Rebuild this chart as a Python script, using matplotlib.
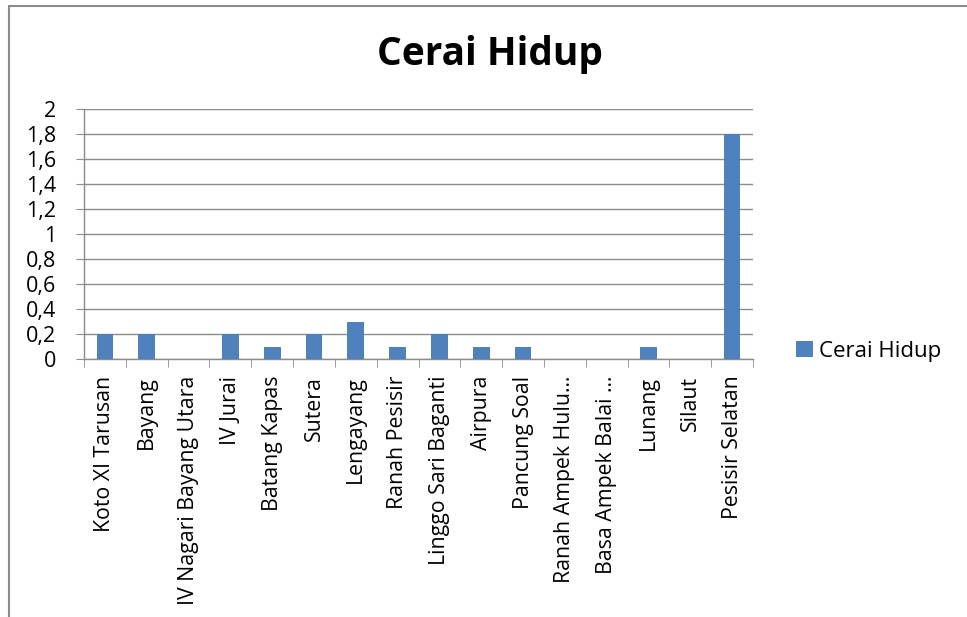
import matplotlib
matplotlib.use("Agg")
import matplotlib.pyplot as plt
from matplotlib.patches import Rectangle
from matplotlib.ticker import FuncFormatter, FixedLocator, NullFormatter
import numpy as np

categories = ["Koto XI Tarusan", "Bayang", "IV Nagari Bayang Utara", "IV Jurai",
              "Batang Kapas", "Sutera", "Lengayang", "Ranah Pesisir",
              "Linggo Sari Baganti", "Airpura", "Pancung Soal",
              "Ranah Ampek Hulu…", "Basa Ampek Balai …", "Lunang", "Silaut",
              "Pesisir Selatan"]
values = [0.2, 0.2, 0, 0.2, 0.1, 0.2, 0.3, 0.1, 0.2, 0.1, 0.1, 0, 0, 0.1, 0, 1.8]
series_name = "Cerai Hidup"
yticks = [0, 0.2, 0.4, 0.6, 0.8, 1, 1.2, 1.4, 1.6, 1.8, 2]

plt.rcParams['font.family'] = ['Open Sans', 'DejaVu Sans']

fig = plt.figure(figsize=(9.67, 6.17), dpi=100)
fig.patches.append(Rectangle((9/967, -0.1), 1.2, 1 - 6/617 + 0.1,
                             transform=fig.transFigure, fill=False,
                             edgecolor='#8c8c8c', linewidth=1.5))

ax = fig.add_axes([84/967, 1 - 359/617, (753 - 84)/967, (359 - 109)/617])
x = np.arange(len(categories))
ax.bar(x, values, width=0.4, color='#4F81BD', label=series_name, zorder=3)

ax.set_xlim(-0.5, len(categories) - 0.5)
ax.set_ylim(0, 2)
ax.set_yticks(yticks)
ax.yaxis.set_major_formatter(FuncFormatter(lambda v, p: ('%g' % v).replace('.', ',')))
ax.grid(axis='y', color='#8c8c8c', linewidth=1, zorder=0)

ax.set_xticks(x)
ax.set_xticklabels(categories, rotation=90, fontsize=15.3, va='top', ha='center')
ax.xaxis.set_minor_locator(FixedLocator(np.arange(-0.5, len(categories), 1)))
ax.xaxis.set_minor_formatter(NullFormatter())
ax.tick_params(axis='x', which='major', length=0, pad=12)
ax.tick_params(axis='x', which='minor', length=6, color='#8c8c8c', direction='out')
ax.tick_params(axis='y', length=6, color='#8c8c8c', labelsize=15.5, pad=14)

for s in ['top', 'right']:
    ax.spines[s].set_visible(False)
for s in ['left', 'bottom']:
    ax.spines[s].set_color('#8c8c8c')
    ax.spines[s].set_linewidth(1)

fig.text(0.507, 1 - 55/617, "Cerai Hidup", ha='center', va='center',
         fontsize=28, fontweight='bold')

fig.legend(loc='center left', bbox_to_anchor=(776/967, 1 - 351/617), frameon=False,
           fontsize=16, handlelength=0.75, handleheight=0.75, handletextpad=0.3)

fig.savefig("out.png", dpi=100)
